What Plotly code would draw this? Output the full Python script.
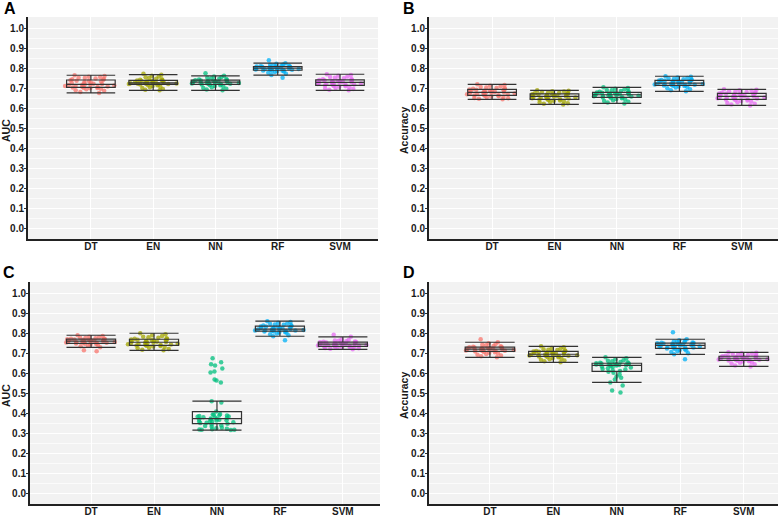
import plotly.graph_objects as go
from plotly.subplots import make_subplots

models = ["DT", "EN", "NN", "RF", "SVM"]
colors = ["#F8766D", "#A3A500", "#00BF7D", "#00B0F6", "#E76BF3"]
panel_letters = ["A", "B", "C", "D"]
metric_titles = ["AUC", "Accuracy", "AUC", "Accuracy"]

# ---- Panel A (AUC) ----
a_dt = [0.677, 0.682, 0.688, 0.691, 0.695, 0.698, 0.700, 0.702, 0.703, 0.704,
        0.706, 0.708, 0.709, 0.711, 0.712, 0.714, 0.715, 0.717, 0.718, 0.719,
        0.721, 0.723, 0.725, 0.727, 0.729, 0.731, 0.734, 0.736, 0.738, 0.740,
        0.743, 0.745, 0.747, 0.749, 0.751, 0.753, 0.756, 0.758, 0.761, 0.765]
a_en = [0.690, 0.693, 0.697, 0.701, 0.705, 0.708, 0.712, 0.715, 0.717, 0.719,
        0.720, 0.721, 0.722, 0.722, 0.723, 0.724, 0.725, 0.725, 0.726, 0.727,
        0.728, 0.729, 0.730, 0.731, 0.732, 0.734, 0.735, 0.736, 0.738, 0.739,
        0.741, 0.743, 0.745, 0.748, 0.751, 0.755, 0.759, 0.763, 0.768, 0.772]
a_nn = [0.690, 0.694, 0.698, 0.701, 0.705, 0.709, 0.712, 0.715, 0.717, 0.719,
        0.721, 0.722, 0.723, 0.724, 0.725, 0.726, 0.727, 0.728, 0.729, 0.730,
        0.731, 0.732, 0.733, 0.734, 0.735, 0.736, 0.737, 0.738, 0.739, 0.740,
        0.742, 0.744, 0.746, 0.748, 0.750, 0.753, 0.756, 0.759, 0.762, 0.775]
a_rf = [0.752, 0.766, 0.772, 0.777, 0.781, 0.784, 0.786, 0.787, 0.788, 0.789,
        0.791, 0.792, 0.793, 0.794, 0.795, 0.796, 0.797, 0.798, 0.799, 0.800,
        0.801, 0.802, 0.802, 0.803, 0.804, 0.805, 0.805, 0.806, 0.807, 0.808,
        0.809, 0.810, 0.812, 0.813, 0.815, 0.817, 0.819, 0.822, 0.825, 0.840]
a_svm = [0.690, 0.693, 0.696, 0.699, 0.702, 0.705, 0.708, 0.710, 0.712, 0.714,
         0.716, 0.718, 0.719, 0.721, 0.722, 0.724, 0.725, 0.727, 0.728, 0.729,
         0.731, 0.732, 0.733, 0.735, 0.736, 0.737, 0.738, 0.739, 0.740, 0.741,
         0.743, 0.745, 0.747, 0.750, 0.753, 0.756, 0.759, 0.762, 0.766, 0.770]

# ---- Panel B (Accuracy) ----
b_dt = [0.645, 0.648, 0.650, 0.652, 0.655, 0.657, 0.659, 0.661, 0.663, 0.664,
        0.666, 0.668, 0.669, 0.671, 0.672, 0.674, 0.675, 0.677, 0.678, 0.679,
        0.681, 0.682, 0.684, 0.685, 0.687, 0.688, 0.690, 0.691, 0.693, 0.694,
        0.696, 0.698, 0.700, 0.702, 0.704, 0.707, 0.710, 0.713, 0.716, 0.720]
b_en = [0.620, 0.623, 0.626, 0.629, 0.632, 0.635, 0.638, 0.640, 0.642, 0.644,
        0.646, 0.648, 0.649, 0.651, 0.652, 0.654, 0.655, 0.657, 0.658, 0.659,
        0.661, 0.662, 0.663, 0.664, 0.665, 0.667, 0.668, 0.669, 0.670, 0.671,
        0.673, 0.675, 0.676, 0.678, 0.680, 0.682, 0.684, 0.686, 0.688, 0.690]
b_nn = [0.625, 0.629, 0.633, 0.637, 0.641, 0.644, 0.647, 0.650, 0.652, 0.654,
        0.656, 0.658, 0.659, 0.660, 0.662, 0.663, 0.664, 0.665, 0.666, 0.667,
        0.669, 0.670, 0.671, 0.672, 0.673, 0.674, 0.676, 0.677, 0.678, 0.679,
        0.681, 0.683, 0.685, 0.687, 0.690, 0.692, 0.695, 0.698, 0.701, 0.705]
b_rf = [0.685, 0.690, 0.695, 0.700, 0.704, 0.707, 0.709, 0.711, 0.713, 0.714,
        0.716, 0.717, 0.718, 0.719, 0.720, 0.721, 0.722, 0.723, 0.724, 0.725,
        0.726, 0.728, 0.729, 0.731, 0.732, 0.734, 0.735, 0.737, 0.738, 0.739,
        0.741, 0.742, 0.744, 0.745, 0.747, 0.749, 0.751, 0.754, 0.757, 0.760]
b_svm = [0.615, 0.619, 0.623, 0.627, 0.631, 0.634, 0.637, 0.640, 0.642, 0.644,
         0.646, 0.648, 0.649, 0.651, 0.652, 0.654, 0.655, 0.657, 0.658, 0.659,
         0.661, 0.662, 0.664, 0.665, 0.667, 0.668, 0.670, 0.671, 0.673, 0.674,
         0.676, 0.678, 0.680, 0.682, 0.684, 0.686, 0.688, 0.690, 0.693, 0.695]

# ---- Panel C (AUC) ----
c_dt = [0.710, 0.715, 0.730, 0.735, 0.738, 0.741, 0.744, 0.746, 0.748, 0.749,
        0.751, 0.752, 0.753, 0.754, 0.755, 0.756, 0.757, 0.758, 0.759, 0.760,
        0.761, 0.762, 0.763, 0.764, 0.765, 0.766, 0.767, 0.768, 0.769, 0.770,
        0.771, 0.772, 0.773, 0.775, 0.776, 0.778, 0.780, 0.783, 0.786, 0.790]
c_en = [0.715, 0.718, 0.722, 0.725, 0.728, 0.731, 0.734, 0.736, 0.738, 0.739,
        0.741, 0.742, 0.744, 0.745, 0.747, 0.748, 0.750, 0.751, 0.753, 0.754,
        0.756, 0.757, 0.759, 0.760, 0.762, 0.763, 0.765, 0.766, 0.768, 0.769,
        0.771, 0.773, 0.775, 0.777, 0.780, 0.783, 0.786, 0.790, 0.795, 0.800]
c_nn = [0.318, 0.319, 0.320, 0.321, 0.322, 0.324, 0.327, 0.330, 0.334, 0.338,
        0.342, 0.346, 0.350, 0.353, 0.355, 0.357, 0.359, 0.361, 0.363, 0.365,
        0.367, 0.369, 0.370, 0.372, 0.374, 0.376, 0.378, 0.380, 0.382, 0.384,
        0.386, 0.388, 0.390, 0.392, 0.394, 0.396, 0.398, 0.410, 0.455, 0.462,
        0.555, 0.565, 0.570, 0.605, 0.610, 0.625, 0.640, 0.645, 0.655, 0.675]
c_rf = [0.765, 0.785, 0.790, 0.795, 0.799, 0.802, 0.804, 0.806, 0.808, 0.809,
        0.811, 0.812, 0.813, 0.814, 0.815, 0.816, 0.817, 0.818, 0.819, 0.820,
        0.821, 0.823, 0.824, 0.826, 0.827, 0.829, 0.830, 0.832, 0.833, 0.834,
        0.836, 0.838, 0.840, 0.842, 0.844, 0.846, 0.849, 0.852, 0.856, 0.860]
c_svm = [0.720, 0.723, 0.725, 0.727, 0.729, 0.730, 0.731, 0.732, 0.733, 0.734,
         0.736, 0.737, 0.738, 0.739, 0.740, 0.741, 0.742, 0.743, 0.744, 0.745,
         0.746, 0.747, 0.748, 0.749, 0.750, 0.751, 0.752, 0.753, 0.754, 0.755,
         0.756, 0.757, 0.759, 0.760, 0.762, 0.764, 0.766, 0.770, 0.782, 0.792]

# ---- Panel D (Accuracy) ----
d_dt = [0.680, 0.685, 0.689, 0.693, 0.697, 0.700, 0.703, 0.705, 0.707, 0.709,
        0.711, 0.712, 0.713, 0.714, 0.715, 0.716, 0.717, 0.718, 0.719, 0.720,
        0.721, 0.722, 0.723, 0.724, 0.725, 0.726, 0.727, 0.728, 0.729, 0.730,
        0.731, 0.733, 0.735, 0.737, 0.740, 0.743, 0.746, 0.750, 0.755, 0.770]
d_en = [0.655, 0.660, 0.664, 0.668, 0.671, 0.674, 0.677, 0.680, 0.682, 0.684,
        0.686, 0.687, 0.688, 0.689, 0.690, 0.691, 0.692, 0.693, 0.694, 0.695,
        0.696, 0.698, 0.699, 0.701, 0.702, 0.704, 0.705, 0.707, 0.708, 0.709,
        0.711, 0.712, 0.714, 0.716, 0.718, 0.720, 0.723, 0.726, 0.730, 0.735]
d_nn = [0.505, 0.515, 0.540, 0.555, 0.570, 0.578, 0.585, 0.595, 0.603, 0.608,
        0.612, 0.615, 0.619, 0.622, 0.626, 0.629, 0.632, 0.635, 0.637, 0.639,
        0.641, 0.642, 0.643, 0.644, 0.645, 0.646, 0.647, 0.648, 0.649, 0.650,
        0.651, 0.653, 0.655, 0.657, 0.660, 0.663, 0.666, 0.670, 0.675, 0.680]
d_rf = [0.670, 0.695, 0.700, 0.706, 0.710, 0.714, 0.717, 0.720, 0.722, 0.724,
        0.726, 0.728, 0.729, 0.731, 0.732, 0.734, 0.735, 0.737, 0.738, 0.739,
        0.741, 0.742, 0.743, 0.744, 0.745, 0.746, 0.747, 0.748, 0.749, 0.750,
        0.751, 0.752, 0.754, 0.755, 0.757, 0.759, 0.762, 0.765, 0.770, 0.805]
d_svm = [0.635, 0.640, 0.645, 0.649, 0.653, 0.656, 0.659, 0.661, 0.663, 0.664,
         0.666, 0.667, 0.668, 0.669, 0.670, 0.671, 0.672, 0.673, 0.674, 0.675,
         0.676, 0.677, 0.678, 0.679, 0.680, 0.681, 0.682, 0.683, 0.684, 0.685,
         0.686, 0.688, 0.690, 0.692, 0.694, 0.696, 0.698, 0.700, 0.703, 0.705]

panels = [
    [a_dt, a_en, a_nn, a_rf, a_svm],
    [b_dt, b_en, b_nn, b_rf, b_svm],
    [c_dt, c_en, c_nn, c_rf, c_svm],
    [d_dt, d_en, d_nn, d_rf, d_svm],
]

W, H = 781, 517
FONT = "Liberation Sans, Arial, Helvetica, sans-serif"

# plot-area pixel boxes (left, top, right, bottom)
boxes = [(28, 17, 378, 239), (429, 17, 778, 239), (30, 282, 380, 504), (429, 282, 778, 504)]
xranges = [[-1.01, 4.61], [-1.01, 4.58], [-0.97, 4.59], [-0.96, 4.54]]
ytitle_x = [6, 404, 6, 404]

fig = make_subplots(rows=2, cols=2)

for p, groups in enumerate(panels):
    r, c = p // 2 + 1, p % 2 + 1
    for m, vals in enumerate(groups):
        # jittered raw points (invisible box only used to spread the points)
        fig.add_trace(go.Box(
            x=[models[m]] * len(vals), y=vals, name=models[m],
            boxpoints="all", jitter=1, pointpos=0, width=0.85,
            fillcolor="rgba(0,0,0,0)",
            line=dict(color="rgba(0,0,0,0)", width=0),
            marker=dict(color=colors[m], size=4.5, opacity=0.75),
            showlegend=False, hoveron="points",
        ), row=r, col=c)
        # box + whiskers with full-width caps (Tukey whiskers)
        fig.add_trace(go.Box(
            x=[models[m]] * len(vals), y=vals, name=models[m],
            boxpoints="outliers", whiskerwidth=1, width=0.78,
            fillcolor="rgba(0,0,0,0)",
            line=dict(color="#333333", width=1.2),
            marker=dict(opacity=0, size=1),
            showlegend=False,
        ), row=r, col=c)

for p in range(4):
    l, t, rr, b = boxes[p]
    sfx = "" if p == 0 else str(p + 1)
    fig.layout["xaxis" + sfx].update(
        domain=[l / W, rr / W], type="category", categoryorder="array",
        categoryarray=models, range=xranges[p], automargin=False,
        showgrid=True, gridcolor="white", gridwidth=1,
        showline=True, linecolor="#222222", linewidth=2,
        ticks="", ticklabelstandoff=-3,
        tickfont=dict(family=FONT, size=10, color="#1a1a1a", weight="bold"),
        zeroline=False,
    )
    fig.layout["yaxis" + sfx].update(
        domain=[1 - b / H, 1 - t / H], range=[-0.05, 1.055], automargin=False,
        tick0=0, dtick=0.1, tickformat=".1f",
        showgrid=True, gridcolor="white", gridwidth=1,
        minor=dict(dtick=0.05, showgrid=True, gridcolor="#fbfbfb", gridwidth=0.6),
        showline=True, linecolor="#222222", linewidth=2,
        ticks="outside", ticklen=2, tickcolor="#333333", ticklabelstandoff=-2,
        tickfont=dict(family=FONT, size=10, color="#1a1a1a", weight="bold"),
        zeroline=False,
    )
    fig.add_shape(type="rect", xref="paper", yref="paper",
                  x0=l / W, x1=rr / W, y0=1 - b / H, y1=1 - t / H,
                  fillcolor="#F2F2F2", line=dict(width=0), layer="below")
    # rotated y-axis title
    fig.add_annotation(text=metric_titles[p], xref="paper", yref="paper",
                       x=ytitle_x[p] / W, y=1 - ((t + b) / 2 + 3) / H,
                       xanchor="center", yanchor="middle", textangle=-90,
                       showarrow=False,
                       font=dict(family=FONT, size=10.5, color="#1a1a1a", weight="bold"))

letter_pos = [(2, -2), (401, -2), (1, 262), (401, 262)]
for p, (lx, ly) in enumerate(letter_pos):
    fig.add_annotation(text=panel_letters[p], xref="paper", yref="paper",
                       x=lx / W, y=1 - ly / H, xanchor="left", yanchor="top",
                       showarrow=False,
                       font=dict(family=FONT, size=16, color="black", weight="bold"))

fig.update_layout(
    width=W, height=H, margin=dict(l=0, r=0, t=0, b=0),
    paper_bgcolor="white", plot_bgcolor="rgba(0,0,0,0)",
    boxmode="overlay",
)

fig.write_html("out.html", config={"displayModeBar": False},
               post_script="document.body.style.margin='0';document.body.style.overflow='hidden';")
